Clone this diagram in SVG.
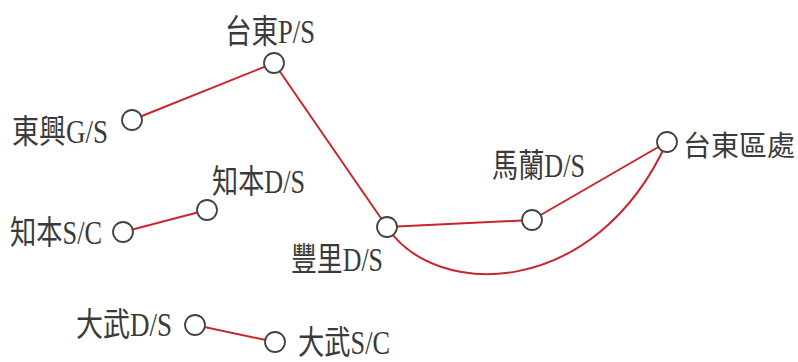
<svg xmlns="http://www.w3.org/2000/svg" width="798" height="362" viewBox="0 0 798 362">
<style>
.n{fill:#fff;stroke:#444;stroke-width:1.8}
.e{fill:none;stroke:#c8262c;stroke-width:2}
text{font-family:"Liberation Serif","Noto Sans CJK TC",serif;font-size:33px;fill:#3a3a3a}
.s{font-size:28px}
</style>
<rect width="798" height="362" fill="#fff"/>
<g id="connectors">
<line class="e" x1="132" y1="120" x2="274" y2="63"/>
<line class="e" x1="274" y1="63" x2="387" y2="227"/>
<line class="e" x1="387" y1="227" x2="532" y2="220"/>
<line class="e" x1="532" y1="220" x2="667" y2="142"/>
<path class="e" d="M 387 227 C 435 300, 595 300, 667 142"/>
<line class="e" x1="123" y1="232" x2="207" y2="210"/>
<line class="e" x1="195" y1="325" x2="275" y2="342"/>
</g>
<g id="taitung-ps"><circle class="n" cx="274" cy="63" r="10"/><text x="225" y="43" textLength="90" lengthAdjust="spacingAndGlyphs">台東P/S</text></g>
<g id="dongxing-gs"><circle class="n" cx="132" cy="120" r="10"/><text x="12" y="143" textLength="96" lengthAdjust="spacingAndGlyphs">東興G/S</text></g>
<g id="zhiben-ds"><circle class="n" cx="207" cy="210" r="10"/><text x="212" y="193" textLength="93" lengthAdjust="spacingAndGlyphs">知本D/S</text></g>
<g id="zhiben-sc"><circle class="n" cx="123" cy="232" r="10"/><text x="10" y="244" textLength="92" lengthAdjust="spacingAndGlyphs">知本S/C</text></g>
<g id="fengli-ds"><circle class="n" cx="387" cy="227" r="10"/><text x="291" y="271" textLength="92" lengthAdjust="spacingAndGlyphs">豐里D/S</text></g>
<g id="malan-ds"><circle class="n" cx="532" cy="220" r="10"/><text x="492" y="177" textLength="93" lengthAdjust="spacingAndGlyphs">馬蘭D/S</text></g>
<g id="taitung-office"><circle class="n" cx="667" cy="142" r="10"/><text class="s" x="683" y="156">台東區處</text></g>
<g id="dawu-ds"><circle class="n" cx="195" cy="325" r="10"/><text x="76" y="336" textLength="96" lengthAdjust="spacingAndGlyphs">大武D/S</text></g>
<g id="dawu-sc"><circle class="n" cx="275" cy="342" r="10"/><text x="298" y="354" textLength="92" lengthAdjust="spacingAndGlyphs">大武S/C</text></g>
</svg>
